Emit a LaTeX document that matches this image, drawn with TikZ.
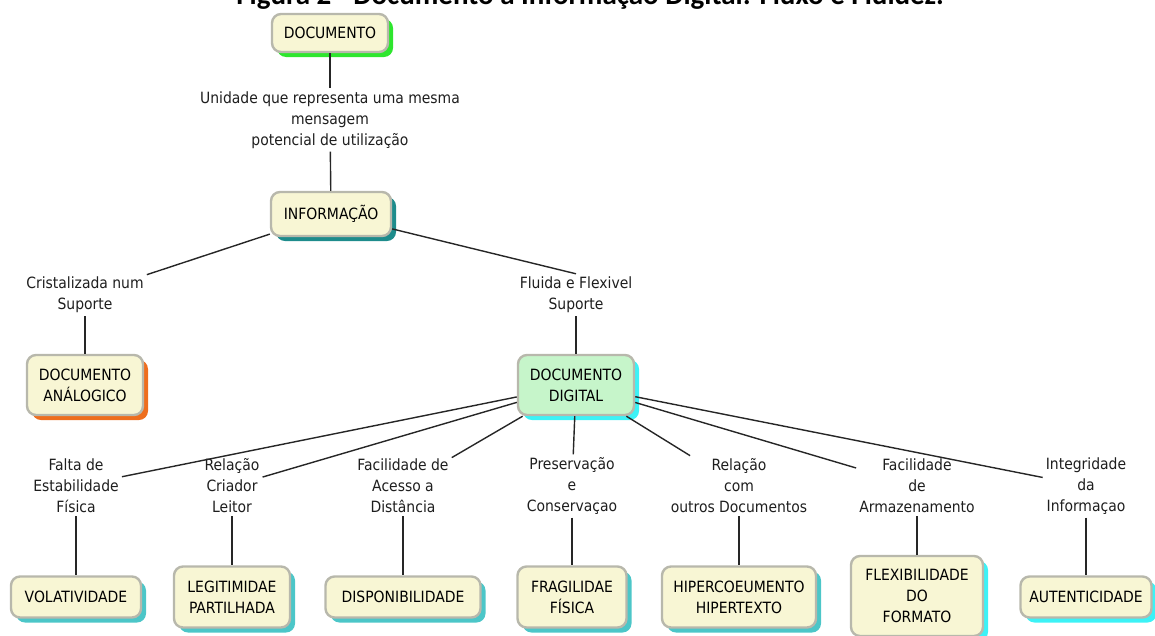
\documentclass[tikz,border=0pt]{standalone}
\usepackage{fontspec}
\setmainfont{DejaVu Sans Condensed}
\newfontfamily\titlefont{Carlito}
\usetikzlibrary{shadows}

\definecolor{boxfill}{HTML}{F8F6D4}
\definecolor{boxedge}{HTML}{B8B8AC}
\definecolor{digfill}{HTML}{C6F5CA}
\definecolor{shGreen}{HTML}{2EE62E}
\definecolor{shTeal}{HTML}{1E8C8C}
\definecolor{shOrange}{HTML}{EE6E1E}
\definecolor{shCyan}{HTML}{3CF2F6}
\definecolor{shAqua}{HTML}{4CC6C8}
\definecolor{labeltext}{HTML}{1E1E1E}

\newcommand\conceptfont{\fontsize{15.5}{21}\selectfont}

\tikzset{
  concept/.style={draw=boxedge, line width=2.4pt, rounded corners=9pt,
    fill=boxfill, align=center, inner sep=2pt, font=\conceptfont, text=black},
  shade col/.style={drop shadow={shadow xshift=5pt, shadow yshift=-5pt,
    fill=#1, opacity=1}},
  linkphrase/.style={align=center, inner sep=3pt, font=\conceptfont, text=labeltext},
  conn/.style={draw=black!85, line width=1.4pt},
}

\begin{document}
\begin{tikzpicture}[x=1pt,y=-1pt]
\useasboundingbox (0,0) rectangle (1155,635);

% caption, partly above the page edge
\node[anchor=base, font=\titlefont\bfseries\fontsize{29}{30}\selectfont] (title) at (590,4)
  {Figura 2 - Documento à Informação Digital: Fluxo e Fluidez.};

% upper concepts
\node[concept, shade col=shGreen, minimum width=116pt, minimum height=38pt] (doc) at (330,33) {DOCUMENTO};
\node[linkphrase] (unid) at (330,120) {Unidade que representa uma mesma\\mensagem\\potencial de utilização};
\node[concept, shade col=shTeal, minimum width=120pt, minimum height=44pt] (info) at (331,214) {INFORMAÇÃO};

\node[linkphrase] (cristal) at (85,295) {Cristalizada num\\Suporte};
\node[linkphrase] (fluida) at (576,295) {Fluida e Flexivel\\Suporte};

\node[concept, shade col=shOrange, minimum width=116pt, minimum height=60pt] (analog) at (85,385) {DOCUMENTO\\ANÁLOGICO};
\node[concept, shade col=shCyan, fill=digfill, minimum width=116pt, minimum height=60pt] (digital) at (576,385) {DOCUMENTO\\DIGITAL};

% linking phrases below the digital document
\node[linkphrase] (l1) at (76,486)   {Falta de\\Estabilidade\\Física};
\node[linkphrase] (l2) at (232,486)  {Relação\\Criador\\Leitor};
\node[linkphrase] (l3) at (403,486)  {Facilidade de\\Acesso a\\Distância};
\node[linkphrase] (l4) at (572,486)  {Preservação\\e\\Conservaçao};
\node[linkphrase] (l5) at (739,486)  {Relação\\com\\outros Documentos};
\node[linkphrase] (l6) at (917,486)  {Facilidade\\de\\Armazenamento};
\node[linkphrase] (l7) at (1086,486) {Integridade\\da\\Informaçao};

% properties
\node[concept, shade col=shAqua, minimum width=130pt, minimum height=41pt] (b1) at (76,597) {VOLATIVIDADE};
\node[concept, shade col=shAqua, minimum width=116pt, minimum height=61pt] (b2) at (232,597) {LEGITIMIDAE\\PARTILHADA};
\node[concept, shade col=shAqua, minimum width=155pt, minimum height=41pt] (b3) at (403,597) {DISPONIBILIDADE};
\node[concept, shade col=shAqua, minimum width=109pt, minimum height=61pt] (b4) at (572,597) {FRAGILIDAE\\FÍSICA};
\node[concept, shade col=shAqua, minimum width=154pt, minimum height=61pt] (b5) at (739,597) {HIPERCOEUMENTO\\HIPERTEXTO};
\node[concept, shade col=shCyan, minimum width=132pt, minimum height=80pt] (b6) at (917,596) {FLEXIBILIDADE\\DO\\FORMATO};
\node[concept, shade col=shCyan, minimum width=131pt, minimum height=41pt] (b7) at (1086,597) {AUTENTICIDADE};

% connectors
\draw[conn] (doc) -- (unid);
\draw[conn] (unid) -- (info);
\draw[conn] (info) -- (cristal);
\draw[conn] (info) -- (fluida.north);
\draw[conn] (cristal) -- (analog);
\draw[conn] (fluida) -- (digital);
\foreach \i in {1,...,7} {
  \draw[conn] (digital) -- (l\i);
  \draw[conn] (l\i) -- (b\i);
}
\end{tikzpicture}
\end{document}
